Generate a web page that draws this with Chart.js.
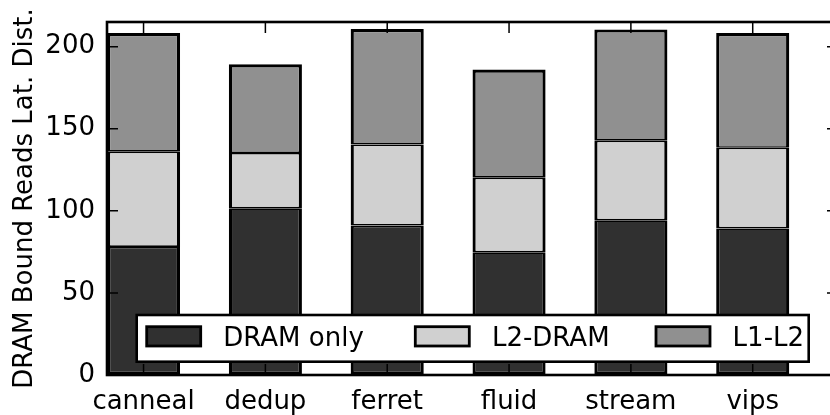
<!DOCTYPE html>
<html>
<head>
<meta charset="utf-8">
<script src="https://cdn.jsdelivr.net/npm/chart.js@4.4.1/dist/chart.umd.min.js"></script>
<style>
  html, body { margin: 0; padding: 0; background: #fff; overflow: hidden; }
  #wrap { width: 830px; height: 415px; overflow: hidden; }
</style>
</head>
<body>
<div id="wrap"><canvas id="latChart" width="845" height="415"></canvas></div>
<script>
// data
const categories = ['canneal', 'dedup', 'ferret', 'fluid', 'stream', 'vips'];
const dramOnly = [78, 101.5, 91, 74.7, 94.2, 89.3];
const l2Dram = [58, 33.7, 49.4, 45.5, 48.5, 49.1];
const l1L2 = [72.3, 54, 70.3, 65.9, 67.8, 69.9];
const yTicks = [0, 50, 100, 150, 200];

const FONT = 'DejaVu Sans, Verdana, sans-serif';

function toPoints(arr) {
    return arr.map((v, i) => ({ x: i, y: v }));
}

// inward ticks on all four sides + the spines
const framePlugin = {
    id: 'frame',
    afterDatasetsDraw(chart) {
        const ctx = chart.ctx;
        const a = chart.chartArea;
        const xs = chart.scales.x, ys = chart.scales.y;
        ctx.save();
        ctx.strokeStyle = '#000';
        ctx.lineWidth = 1.5;
        ctx.beginPath();
        categories.forEach((c, i) => {
            const px = xs.getPixelForValue(i);
            ctx.moveTo(px, a.top); ctx.lineTo(px, a.top + 11);
            ctx.moveTo(px, a.bottom); ctx.lineTo(px, a.bottom - 11);
        });
        yTicks.forEach(t => {
            const py = ys.getPixelForValue(t);
            ctx.moveTo(a.left, py); ctx.lineTo(a.left + 11, py);
            ctx.moveTo(a.right, py); ctx.lineTo(a.right - 11, py);
        });
        ctx.stroke();
        ctx.lineWidth = 2.6;
        ctx.strokeRect(a.left, a.top, a.right - a.left, a.bottom - a.top);
        ctx.restore();
    }
};

// legend box inside the plot, bottom
const legendPlugin = {
    id: 'innerLegend',
    afterDraw(chart) {
        const ctx = chart.ctx;
        const box = { x: 136.7, y: 315, w: 672, h: 46.7 };
        const patchX = [10, 278.6, 519.3];
        ctx.save();
        ctx.fillStyle = '#fff';
        ctx.fillRect(box.x, box.y, box.w, box.h);
        ctx.strokeStyle = '#000';
        ctx.lineWidth = 2.6;
        ctx.strokeRect(box.x, box.y, box.w, box.h);
        ctx.font = '26px ' + FONT;
        ctx.textBaseline = 'alphabetic';
        ctx.textAlign = 'left';
        chart.data.datasets.forEach((ds, i) => {
            const px = box.x + patchX[i];
            ctx.fillStyle = ds.backgroundColor;
            ctx.fillRect(px, box.y + 11.7, 54, 19.3);
            ctx.lineWidth = 2.8;
            ctx.strokeRect(px, box.y + 11.7, 54, 19.3);
            ctx.fillStyle = '#000';
            ctx.fillText(ds.label, px + 76.6, box.y + 31);
        });
        ctx.restore();
    }
};

const ctx = document.getElementById('latChart').getContext('2d');
const latChart = new Chart(ctx, {
    type: 'bar',
    data: {
        datasets: [{
            label: 'DRAM only',
            data: toPoints(dramOnly),
            backgroundColor: '#303030',
            borderColor: '#000',
            borderWidth: { top: 1.6, bottom: 3.2, left: 3.2, right: 3.2 },
            borderSkipped: false
        }, {
            label: 'L2-DRAM',
            data: toPoints(l2Dram),
            backgroundColor: '#d0d0d0',
            borderColor: '#000',
            borderWidth: { top: 1.6, bottom: 1.6, left: 3.2, right: 3.2 },
            borderSkipped: false
        }, {
            label: 'L1-L2',
            data: toPoints(l1L2),
            backgroundColor: '#909090',
            borderColor: '#000',
            borderWidth: { top: 3.2, bottom: 1.6, left: 3.2, right: 3.2 },
            borderSkipped: false
        }]
    },
    options: {
        responsive: false,
        animation: false,
        devicePixelRatio: 1,
        barPercentage: 0.6,
        categoryPercentage: 1,
        layout: { padding: { top: 22, right: 7, left: 0, bottom: 0 } },
        plugins: {
            legend: { display: false },
            tooltip: { enabled: false }
        },
        scales: {
            x: {
                type: 'linear',
                stacked: true,
                offset: false,
                min: -0.3,
                max: 5.7,
                grid: { display: false },
                border: { display: false },
                afterBuildTicks: (scale) => {
                    scale.ticks = categories.map((c, i) => ({ value: i }));
                },
                afterFit: (scale) => { scale.height = 40; },
                ticks: {
                    autoSkip: false,
                    maxRotation: 0,
                    padding: 4,
                    color: '#000',
                    font: { family: FONT, size: 26 },
                    callback: (v) => categories[v]
                }
            },
            y: {
                stacked: true,
                min: 0,
                max: 215,
                grid: { display: false },
                border: { display: false },
                afterBuildTicks: (scale) => {
                    scale.ticks = yTicks.map(v => ({ value: v }));
                },
                afterFit: (scale) => { scale.width = 107; },
                ticks: {
                    padding: 4,
                    color: '#000',
                    font: { family: FONT, size: 26 }
                },
                title: {
                    display: true,
                    text: 'DRAM Bound Reads Lat. Dist.',
                    color: '#000',
                    font: { family: FONT, size: 26 },
                    padding: { top: 10, bottom: 0 }
                }
            }
        }
    },
    plugins: [framePlugin, legendPlugin]
});
</script>
</body>
</html>
